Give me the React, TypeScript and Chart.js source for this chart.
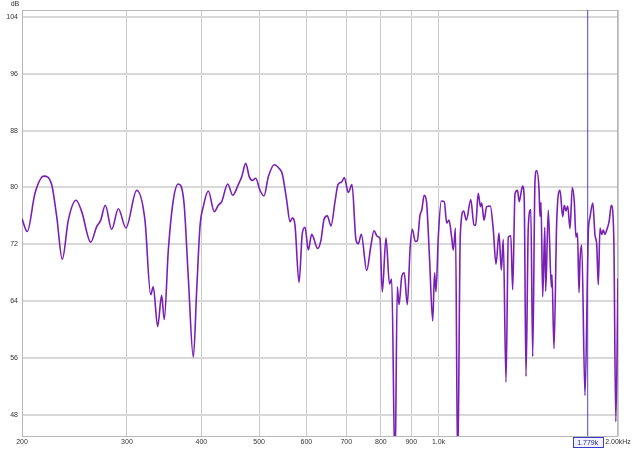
import React, { useEffect, useRef } from "react";
import { Chart, registerables } from "chart.js";

Chart.register(...registerables);

const freqHz = [
  200, 204.1, 210.3, 217.7, 224.3, 228.7, 233.7, 239.2, 246.4, 251.9,
  260.8, 266.9, 271.1, 275.9, 282.8, 290.2, 298.8, 311.5, 321.6, 328.8,
  332.1, 337.8, 343.0, 346.5, 352.0, 358.8, 365.8, 374.0, 380.2, 387.7,
  392.8, 397.8, 402.9, 410.8, 420.4, 427.0, 432.6, 442.8, 451.4, 461.3,
  467.4, 474.7, 481.3, 486.9, 493.3, 501.6, 509.4, 518.0, 530.1, 539.8,
  546.7, 556.1, 563.2, 568.3, 574.2, 583.2, 590.6, 596.9, 604.5, 612.5,
  626.9, 634.9, 642.3, 650.6, 659.9, 670.2, 678.0, 687.8, 694.7, 705.5,
  715.7, 726.8, 733.3, 741.9, 757.5, 770.2, 779.2, 789.2, 797.4, 804.5,
  816.1, 827.3, 834.3, 845.0, 852.6, 858.2, 867.2, 875.6, 886.2, 895.5,
  903.4, 914.0, 921.1, 930.7, 936.9, 946.0, 954.4, 965.5, 977.6, 984.4,
  990.0, 998.9, 1010.5, 1022.3, 1031.8, 1041.0, 1052.0, 1058.5, 1067.5, 1076.6,
  1087.5, 1101.9, 1113.0, 1132.6, 1146.6, 1154.2, 1165.4, 1175.8, 1181.3, 1191.8,
  1204.3, 1221.1, 1235.4, 1248.4, 1262.9, 1274.2, 1284.0, 1297.5, 1309.1, 1321.8,
  1331.5, 1343.4, 1356.4, 1365.4, 1382.9, 1392.0, 1401.7, 1414.2, 1428.0, 1438.5,
  1451.4, 1460.9, 1473.9, 1479.7, 1485.4, 1495.2, 1507.3, 1512.5, 1527.8, 1545.7,
  1549.8, 1561.8, 1578.3, 1598.5, 1615.3, 1625.3, 1636.0, 1646.8, 1661.5, 1676.3,
  1689.3, 1700.3, 1710.3, 1720.3, 1727.0, 1738.3, 1760.6, 1783.3, 1794.9, 1814.4,
  1829.9, 1842.0, 1853.4, 1865.7, 1877.9, 1889.6, 1902.1, 1914.6, 1933.2, 1948.9,
  1967.8, 1983.1, 2000,
];

const levelDb = [
  75.6, 73.8, 79.2, 81.6, 80.4, 75.9, 69.9, 75.4, 78.2, 76.6,
  72.3, 74.5, 75.4, 77.5, 74.1, 77.0, 74.3, 79.6, 75.4, 64.9,
  66.0, 60.4, 64.8, 61.4, 71.2, 78.2, 80.5, 77.8, 67.4, 56.1,
  65.6, 74.5, 77.3, 79.5, 76.6, 77.5, 78.0, 80.5, 78.9, 80.4,
  81.5, 83.4, 81.5, 81.0, 81.3, 79.6, 78.8, 81.5, 83.2, 82.7,
  81.9, 78.2, 75.2, 75.7, 74.7, 66.6, 73.5, 74.4, 71.2, 73.4,
  71.4, 72.6, 75.5, 76.0, 74.6, 78.0, 80.4, 80.8, 81.4, 79.3,
  80.4, 72.6, 72.1, 73.4, 68.3, 71.9, 73.9, 73.1, 72.8, 65.3,
  72.9, 66.4, 67.1, 40, 66.0, 63.5, 67.4, 68.0, 63.5, 71.2,
  74.1, 72.4, 72.5, 76.1, 76.8, 78.9, 78.0, 70.1, 61.2, 68.0,
  65.3, 73.0, 78.1, 78.0, 75.0, 75.4, 72.9, 71.2, 74.3, 40,
  73.3, 76.7, 75.4, 78.3, 74.7, 74.7, 79.2, 77.3, 77.8, 75.4,
  77.3, 77.4, 74.0, 69.2, 73.6, 68.4, 72.7, 52.6, 73.0, 73.2,
  65.6, 79.1, 79.6, 78.0, 80.2, 78.6, 53.4, 74.4, 76.9, 56.2,
  81.0, 82.4, 79.8, 75.9, 77.9, 64.6, 74.4, 65.4, 76.8, 66.0,
  67.7, 57.3, 75.2, 79.6, 75.9, 77.5, 76.7, 77.4, 74.2, 80.0,
  78.0, 73.0, 73.6, 65.2, 69.8, 71.9, 50.7, 73.7, 75.8, 77.8,
  73.3, 72.0, 66.3, 74.3, 73.4, 74.0, 73.4, 74.0, 75.3, 77.5,
  72.9, 47.0, 67.2,
];

const xTickValues = [200, 300, 400, 500, 600, 700, 800, 900, 1000, 2000];
const xTickLabels = ["200", "300", "400", "500", "600", "700", "800", "900", "1.0k", "2.00kHz"];
const yTickValues = [48, 56, 64, 72, 80, 88, 96, 104];
const yMin = 45;
const yMax = 105;
const xMin = 200;
const xMax = 2000;
const yUnit = "dB";
const cursorHz = 1779;
const cursorLabel = "1.779k";

const FONT_FAMILY = "'Liberation Sans', Arial, sans-serif";

export default function App() {
  const ref = useRef<HTMLCanvasElement>(null);

  useEffect(() => {
    if (!ref.current) return;

    const frame = {
      id: "frame",
      beforeDatasetsDraw(chart: any) {
        const { ctx, chartArea: a } = chart;
        ctx.save();
        ctx.strokeStyle = "#b8b8b8";
        ctx.lineWidth = 1;
        ctx.strokeRect(a.left + 0.5, a.top + 0.5, a.right - a.left - 1, a.bottom - a.top);
        ctx.restore();
      },
      afterDraw(chart: any) {
        const { ctx, chartArea: a } = chart;
        const px = chart.scales.x.getPixelForValue(cursorHz);
        ctx.save();
        ctx.font = `7px ${FONT_FAMILY}`;
        ctx.textAlign = "center";
        ctx.textBaseline = "middle";
        ctx.fillStyle = "#333333";
        ctx.fillText(yUnit, 15, 4);
        const w = Math.round(ctx.measureText(cursorLabel).width + 9);
        const bx = Math.round(px - w / 2) + 0.5;
        const by = a.bottom + 1.5;
        ctx.fillStyle = "#f2f3ff";
        ctx.fillRect(bx, by, w, 10);
        ctx.strokeStyle = "#3c3cc8";
        ctx.lineWidth = 1;
        ctx.strokeRect(bx, by, w, 10);
        ctx.fillStyle = "#2a2a80";
        ctx.fillText(cursorLabel, px, by + 5.5);
        ctx.restore();
      },
    };

    const chart = new Chart(ref.current, {
      type: "line",
      data: {
        datasets: [
          {
            data: freqHz.map((f, i) => ({ x: f, y: levelDb[i] })),
            borderColor: "#7a1fb6",
            borderWidth: 1.6,
            pointRadius: 0,
            fill: false,
            cubicInterpolationMode: "monotone",
          },
          {
            data: [
              { x: cursorHz, y: yMin },
              { x: cursorHz, y: yMax },
            ],
            borderColor: "#4848d8",
            borderWidth: 1,
            pointRadius: 0,
            fill: false,
          },
        ],
      },
      options: {
        responsive: false,
        animation: false,
        devicePixelRatio: 1,
        layout: { padding: { top: 10, right: 22, left: 0, bottom: 0 } },
        plugins: { legend: { display: false }, tooltip: { enabled: false } },
        scales: {
          x: {
            type: "logarithmic",
            min: xMin,
            max: xMax,
            afterBuildTicks: (axis: any) => {
              axis.ticks = xTickValues.map((value) => ({ value }));
            },
            afterFit: (scale: any) => {
              scale.height = 13;
            },
            grid: { color: "#cacaca", lineWidth: 1, drawTicks: false },
            border: { display: false },
            ticks: {
              autoSkip: false,
              maxRotation: 0,
              minRotation: 0,
              padding: 2,
              color: "#333333",
              font: { family: FONT_FAMILY, size: 7 },
              callback: (_v: any, i: number) => xTickLabels[i],
            },
          },
          y: {
            type: "linear",
            min: yMin,
            max: yMax,
            afterBuildTicks: (axis: any) => {
              axis.ticks = yTickValues.map((value) => ({ value }));
            },
            afterFit: (scale: any) => {
              scale.width = 22;
            },
            grid: { color: "#d8d8d8", lineWidth: 2, drawTicks: false },
            border: { display: false },
            ticks: {
              padding: 4,
              color: "#333333",
              font: { family: FONT_FAMILY, size: 7 },
              callback: (v: any) => String(v),
            },
          },
        },
      },
      plugins: [frame],
    } as any);

    return () => chart.destroy();
  }, []);

  return (
    <div style={{ position: "fixed", left: 0, top: 0, width: 640, height: 449, background: "#ffffff" }}>
      <canvas ref={ref} width={640} height={449} style={{ display: "block", width: 640, height: 449 }} />
    </div>
  );
}
